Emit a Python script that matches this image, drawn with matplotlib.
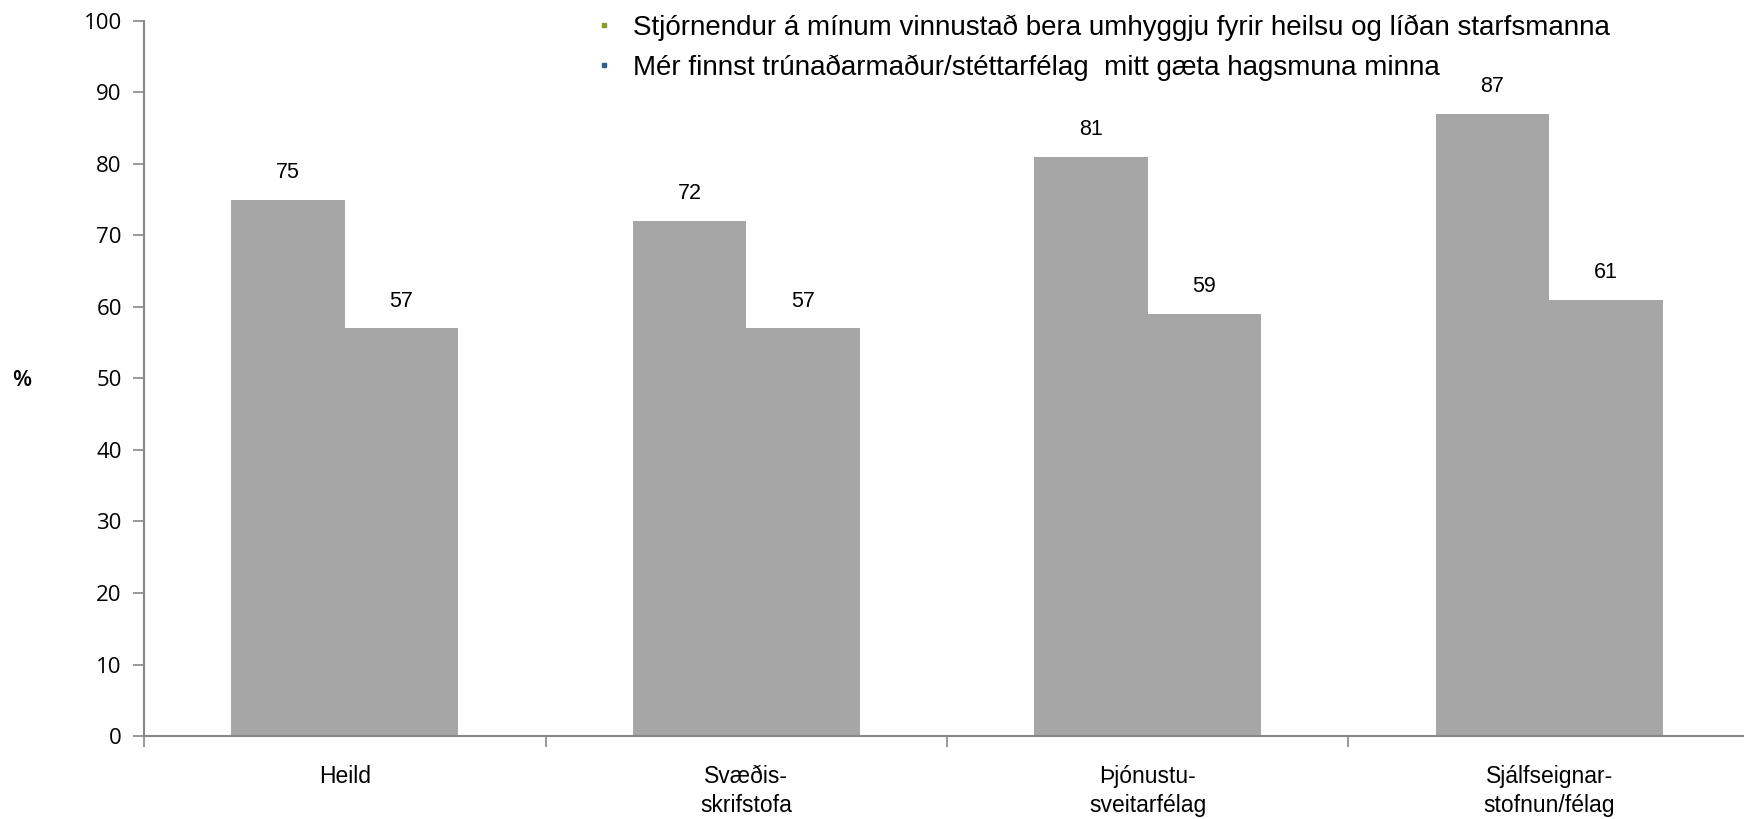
import matplotlib
matplotlib.use('Agg')
import matplotlib.pyplot as plt
import numpy as np
from matplotlib import font_manager
from matplotlib.lines import Line2D

# Gögn
categories = ['Heild', 'Svæðis-\nskrifstofa', 'Þjónustu-\nsveitarfélag', 'Sjálfseignar-\nstofnun/félag']
series_names = ['Stjórnendur á mínum vinnustað bera umhyggju fyrir heilsu og líðan starfsmanna',
                'Mér finnst trúnaðarmaður/stéttarfélag  mitt gæta hagsmuna minna']
umhyggja = [75, 72, 81, 87]
hagsmunir = [57, 57, 59, 61]
legend_colors = ['#8c9b2b', '#2f5f8c']
bar_color = '#a6a6a6'

names = {f.name for f in font_manager.fontManager.ttflist}
narrow = 'Liberation Sans Narrow' if 'Liberation Sans Narrow' in names else 'Liberation Sans'

fig = plt.figure(figsize=(17.44, 8.19), dpi=100)
ax = fig.add_axes([0.0826, 0.1013, 1.0034 - 0.0826, 0.9747 - 0.1013])

x = np.arange(len(categories))
w = 0.283
ax.bar(x - w / 2, umhyggja, w, color=bar_color, linewidth=0)
ax.bar(x + w / 2, hagsmunir, w, color=bar_color, linewidth=0)

for xi, v in zip(x - w / 2, umhyggja):
    ax.annotate(str(v), (xi, v), xytext=(0, 12), textcoords='offset points',
                ha='center', va='bottom', fontsize=15.5, family=narrow)
for xi, v in zip(x + w / 2, hagsmunir):
    ax.annotate(str(v), (xi, v), xytext=(0, 12), textcoords='offset points',
                ha='center', va='bottom', fontsize=15.5, family=narrow)

ax.set_xlim(-0.5, len(categories) - 0.5)
ax.set_ylim(0, 100)
ax.set_yticks(np.arange(0, 101, 10))
ax.tick_params(axis='y', labelsize=16, length=8, width=1.2, color='#888888', pad=8)
for lab in ax.get_yticklabels():
    lab.set_family('Open Sans')

ax.set_xticks(x)
ax.set_xticklabels(categories, fontsize=16.5, family=narrow, linespacing=1.3)
ax.set_xticks(np.arange(-0.5, len(categories), 1), minor=True)
ax.tick_params(axis='x', which='major', length=0, pad=21)
ax.tick_params(axis='x', which='minor', length=8, width=1.2, color='#888888')

for s in ['top', 'right']:
    ax.spines[s].set_visible(False)
for s in ['left', 'bottom']:
    ax.spines[s].set_color('#888888')
    ax.spines[s].set_linewidth(1.5)

fig.text(0.0126, 0.535, '%', fontsize=16, family='Open Sans', fontweight='semibold',
         ha='center', va='center')

handles = [Line2D([], [], marker='s', linestyle='none', markersize=3, color=c) for c in legend_colors]
fig.legend(handles, series_names, loc='upper left', bbox_to_anchor=(0.335, 0.996),
           frameon=False, prop={'family': narrow, 'size': 20}, handlelength=0.6,
           handletextpad=0.75, labelspacing=0.5, borderaxespad=0)

fig.savefig('out.png', dpi=100)
